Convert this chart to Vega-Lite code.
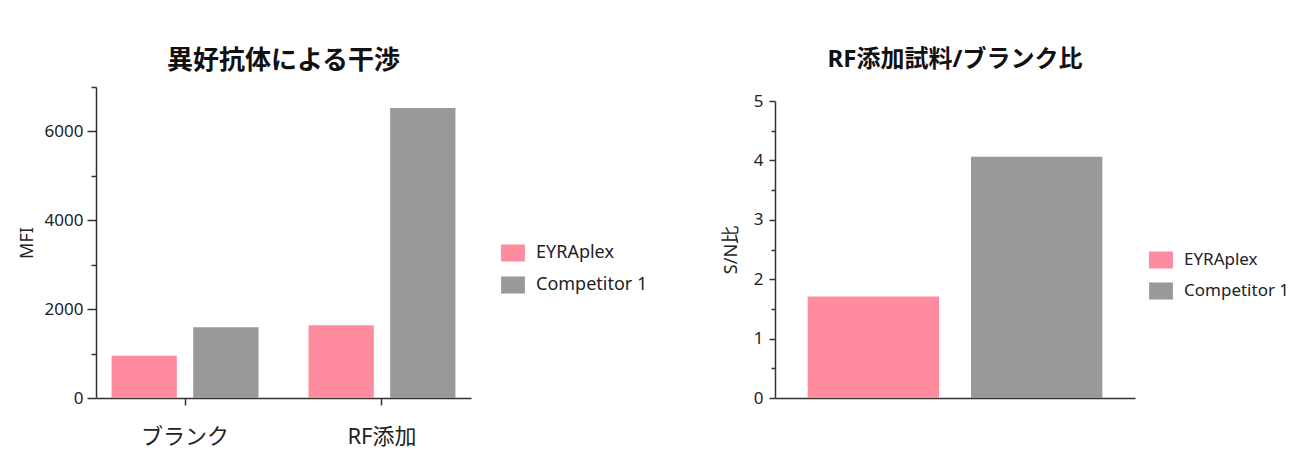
{
  "$schema": "https://vega.github.io/schema/vega-lite/v6.json",
  "background": "white",
  "padding": {"left": 18, "top": 48, "right": 5, "bottom": 5},
  "datasets": {
    "mfi": [
      {"group": "ブランク", "series": "EYRAplex", "value": 950},
      {"group": "ブランク", "series": "Competitor 1", "value": 1590},
      {"group": "RF添加", "series": "EYRAplex", "value": 1640},
      {"group": "RF添加", "series": "Competitor 1", "value": 6530}
    ],
    "ratio": [
      {"series": "EYRAplex", "ratio": 1.71},
      {"series": "Competitor 1", "ratio": 4.06}
    ],
    "blank": []
  },
  "spacing": 74,
  "hconcat": [
    {
      "title": {"text": "異好抗体による干渉", "offset": 12, "fontSize": 26},
      "width": 375,
      "height": 311,
      "data": {"name": "mfi"},
      "mark": {"type": "bar"},
      "encoding": {
        "x": {
          "field": "group",
          "type": "nominal",
          "sort": ["ブランク", "RF添加"],
          "scale": {"paddingInner": 0.254, "paddingOuter": 0.079},
          "axis": {"title": null, "labelAngle": 0, "labelFontSize": 22, "labelPadding": 21, "tickSize": 7}
        },
        "xOffset": {
          "field": "series",
          "type": "nominal",
          "sort": ["EYRAplex", "Competitor 1"],
          "scale": {"paddingInner": 0.2}
        },
        "y": {
          "field": "value",
          "type": "quantitative",
          "scale": {"domain": [0, 7000], "nice": false},
          "axis": {
            "title": "MFI",
            "titlePadding": 8,
            "values": [0, 1000, 2000, 3000, 4000, 5000, 6000, 7000],
            "labelExpr": "datum.value % 2000 === 0 ? datum.value + '' : ''",
            "tickSize": {"condition": {"test": "datum.value % 2000 === 0", "value": 9}, "value": 5}
          }
        },
        "color": {
          "field": "series",
          "type": "nominal",
          "sort": ["EYRAplex", "Competitor 1"],
          "scale": {"domain": ["EYRAplex", "Competitor 1"], "range": ["#ff8c9e", "#999999"]},
          "legend": {"title": null, "orient": "none", "legendX": 408, "legendY": 157, "labelFontSize": 18, "rowPadding": 14}
        }
      }
    },
    {
      "bounds": "flush",
      "spacing": 0,
      "vconcat": [
        {
          "width": 360,
          "height": 14,
          "data": {"name": "blank"},
          "mark": {"type": "point"}
        },
        {
          "title": {"text": "RF添加試料/ブランク比", "offset": 20, "fontSize": 24},
          "width": 360,
          "height": 297,
          "data": {"name": "ratio"},
          "mark": {"type": "bar"},
          "encoding": {
            "x": {
              "field": "series",
              "type": "nominal",
              "sort": ["EYRAplex", "Competitor 1"],
              "scale": {"paddingInner": 0.196, "paddingOuter": 0.2},
              "axis": {"title": null, "labels": false, "ticks": false}
            },
            "y": {
              "field": "ratio",
              "type": "quantitative",
              "scale": {"domain": [0, 5], "nice": false},
              "axis": {
                "title": "S/N比",
                "titlePadding": 13,
                "labelPadding": 6,
                "values": [0, 0.5, 1, 1.5, 2, 2.5, 3, 3.5, 4, 4.5, 5],
                "labelExpr": "datum.value % 1 === 0 ? datum.value + '' : ''",
                "tickSize": {"condition": {"test": "datum.value % 1 === 0", "value": 6}, "value": 4}
              }
            },
            "color": {
              "field": "series",
              "type": "nominal",
              "sort": ["EYRAplex", "Competitor 1"],
              "scale": {"domain": ["EYRAplex", "Competitor 1"], "range": ["#ff8c9e", "#999999"]},
              "legend": {"title": null, "orient": "none", "legendX": 377, "legendY": 164, "labelFontSize": 17, "rowPadding": 13}
            }
          }
        }
      ]
    }
  ],
  "resolve": {"scale": {"color": "independent", "x": "independent", "y": "independent"}, "legend": {"color": "independent"}},
  "config": {
    "font": "'Noto Sans', 'Noto Sans CJK JP', sans-serif",
    "view": {"stroke": null},
    "title": {"fontWeight": "bold", "color": "#111111", "anchor": "middle", "font": "'Noto Sans', 'Noto Sans CJK JP', sans-serif"},
    "axis": {
      "grid": false,
      "domainColor": "#333333",
      "domainWidth": 1.5,
      "tickColor": "#333333",
      "tickWidth": 1.5,
      "labelFontSize": 17,
      "labelColor": "#222222",
      "labelFont": "'Noto Sans', 'Noto Sans CJK JP', sans-serif",
      "titleFont": "'Noto Sans', 'Noto Sans CJK JP', sans-serif",
      "titleFontSize": 18,
      "titleFontWeight": "normal",
      "titleColor": "#222222",
      "labelPadding": 4
    },
    "legend": {
      "symbolType": "M-1.4,-1H1.4V1H-1.4Z",
      "symbolSize": 290,
      "symbolStrokeWidth": 0,
      "symbolOpacity": 1,
      "labelColor": "#222222",
      "labelFont": "'Noto Sans', 'Noto Sans CJK JP', sans-serif",
      "labelOffset": 14
    }
  }
}
